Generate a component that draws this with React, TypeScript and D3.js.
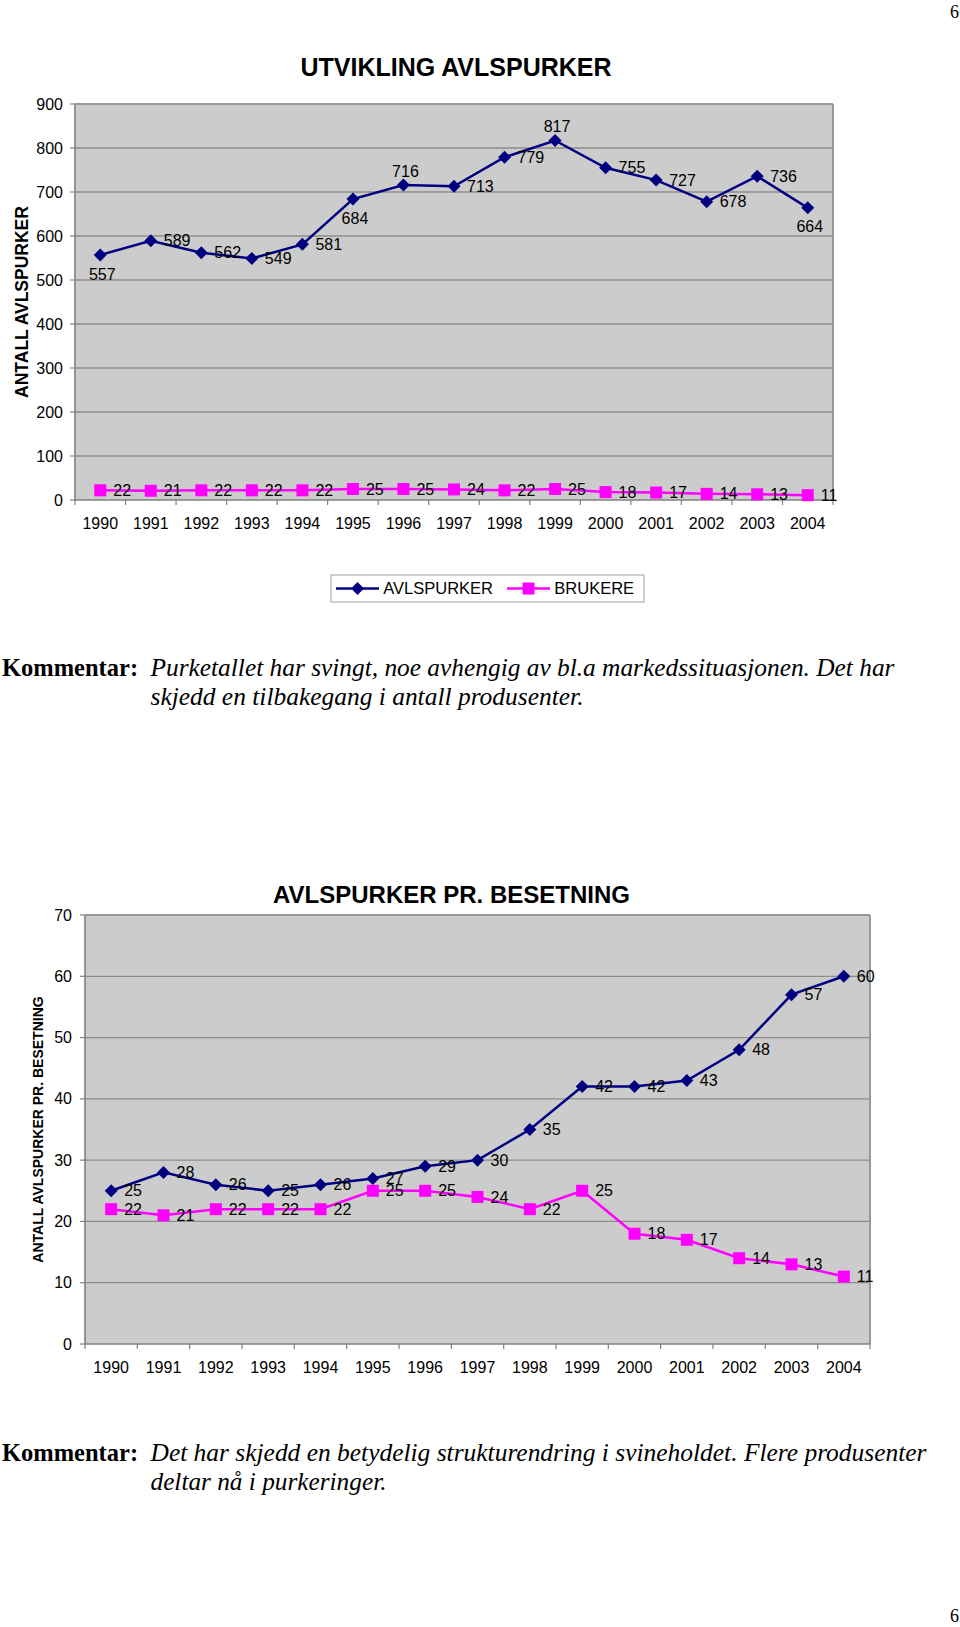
import React from 'react';
import * as d3 from 'd3';

const years = ['1990','1991','1992','1993','1994','1995','1996','1997','1998','1999','2000','2001','2002','2003','2004'];
const avlspurker = [557,589,562,549,581,684,716,713,779,817,755,727,678,736,664];
const brukere = [22,21,22,22,22,25,25,24,22,25,18,17,14,13,11];
const perBesetning = [25,28,26,25,26,27,29,30,35,42,42,43,48,57,60];
const ticks1 = [0,100,200,300,400,500,600,700,800,900];
const ticks2 = [0,10,20,30,40,50,60,70];
const labelPos1 = ['below','right','right','right','right','below','above','right','right','above','right','right','right','right','below'];
const allRight = years.map(() => 'right');

const SANS = '"Liberation Sans", Arial, Helvetica, sans-serif';
const SERIF = '"Liberation Serif", "Times New Roman", serif';
const NAVY = '#000080';
const MAGENTA = '#FF00FF';

type Series = { name: string; values: number[]; color: string; marker: 'diamond' | 'square'; labelPos: string[] };

function Marker({ type, x, y, color }: { type: string; x: number; y: number; color: string }) {
  if (type === 'diamond') {
    const s = 6.5;
    return <path d={`M${x},${y - s}L${x + s},${y}L${x},${y + s}L${x - s},${y}Z`} fill={color} />;
  }
  return <rect x={x - 6} y={y - 6} width={12} height={12} fill={color} />;
}

function LineChart(props: {
  left: number; right: number; top: number; bottom: number; yMax: number; ticks: number[];
  series: Series[]; title: string; titleX: number; titleY: number; titleSize: number;
  yTitle: string; yTitleX: number; yTitleSize: number; tickGap: number;
}) {
  const { left, right, top, bottom, yMax, ticks, series } = props;
  const x = d3.scaleBand<string>().domain(years).range([left, right]).padding(0);
  const y = d3.scaleLinear().domain([0, yMax]).range([bottom, top]);
  const bw = x.bandwidth();
  const cx = (yr: string) => (x(yr) as number) + bw / 2;
  const line = d3.line<number>().x((_, i) => cx(years[i])).y((v) => y(v));
  const boundaries = d3.range(years.length + 1).map((i) => left + i * bw);
  return (
    <g>
      <text x={props.titleX} y={props.titleY} textAnchor="middle" fontFamily={SANS} fontWeight="bold" fontSize={props.titleSize}>{props.title}</text>
      <rect x={left} y={top} width={right - left} height={bottom - top} fill="#cccccc" />
      {ticks.filter((t) => t > 0 && t < yMax).map((t) => (
        <line key={t} x1={left} x2={right} y1={y(t)} y2={y(t)} stroke="#8c8c8c" strokeWidth={1.3} />
      ))}
      <line x1={left} x2={right} y1={top} y2={top} stroke="#999999" strokeWidth={2} />
      <line x1={right} x2={right} y1={top} y2={bottom} stroke="#999999" strokeWidth={2} />
      <line x1={left} x2={left} y1={top} y2={bottom + 1} stroke="#808080" strokeWidth={1.6} />
      <line x1={left} x2={right} y1={bottom} y2={bottom} stroke="#808080" strokeWidth={1.6} />
      {ticks.map((t) => (
        <g key={t}>
          <line x1={left - 5} x2={left} y1={y(t)} y2={y(t)} stroke="#808080" strokeWidth={1.2} />
          <text x={left - props.tickGap} y={y(t)} dy="0.35em" textAnchor="end" fontFamily={SANS} fontSize={16}>{t}</text>
        </g>
      ))}
      {boundaries.map((bx, i) => (
        <line key={i} x1={bx} x2={bx} y1={bottom} y2={bottom + 5} stroke="#808080" strokeWidth={1.2} />
      ))}
      {years.map((yr) => (
        <text key={yr} x={cx(yr)} y={bottom + 23} dy="0.35em" textAnchor="middle" fontFamily={SANS} fontSize={16}>{yr}</text>
      ))}
      <text transform={`translate(${props.yTitleX},${(top + bottom) / 2}) rotate(-90)`} dy="0.35em" textAnchor="middle" fontFamily={SANS} fontWeight="bold" fontSize={props.yTitleSize}>{props.yTitle}</text>
      {series.map((s) => (
        <g key={s.name}>
          <path d={line(s.values) as string} fill="none" stroke={s.color} strokeWidth={2.5} />
          {s.values.map((v, i) => (
            <Marker key={i} type={s.marker} x={cx(years[i])} y={y(v)} color={s.color} />
          ))}
          {s.values.map((v, i) => {
            const pos = s.labelPos[i];
            const px = cx(years[i]);
            const py = y(v);
            if (pos === 'below') return <text key={'l' + i} x={px + 2} y={py + 19} dy="0.35em" textAnchor="middle" fontFamily={SANS} fontSize={16}>{v}</text>;
            if (pos === 'above') return <text key={'l' + i} x={px + 2} y={py - 14} dy="0.35em" textAnchor="middle" fontFamily={SANS} fontSize={16}>{v}</text>;
            return <text key={'l' + i} x={px + 13} y={py} dy="0.35em" textAnchor="start" fontFamily={SANS} fontSize={16}>{v}</text>;
          })}
        </g>
      ))}
    </g>
  );
}

function Comment({ y, lines, widths }: { y: number; lines: string[]; widths: number[] }) {
  return (
    <g fontFamily={SERIF} fontSize={24.5}>
      <text x={2} y={y} fontWeight="bold">Kommentar:</text>
      {lines.map((l, i) => (
        <text key={i} x={150.5} y={y + i * 29} fontStyle="italic" textLength={widths[i]} lengthAdjust="spacingAndGlyphs">{l}</text>
      ))}
    </g>
  );
}

export default function App() {
  const s1: Series[] = [
    { name: 'AVLSPURKER', values: avlspurker, color: NAVY, marker: 'diamond', labelPos: labelPos1 },
    { name: 'BRUKERE', values: brukere, color: MAGENTA, marker: 'square', labelPos: allRight },
  ];
  const s2: Series[] = [
    { name: 'PERBES', values: perBesetning, color: NAVY, marker: 'diamond', labelPos: allRight },
    { name: 'BRUKERE', values: brukere, color: MAGENTA, marker: 'square', labelPos: allRight },
  ];
  return (
    <svg width={960} height={1627} style={{ position: 'absolute', left: 0, top: 0, background: '#fff' }}>
      <rect x={0} y={0} width={960} height={1627} fill="#fff" />
      <text x={950} y={18} fontFamily={SERIF} fontSize={18}>6</text>
      <LineChart left={75} right={833} top={104} bottom={500} yMax={900} ticks={ticks1} series={s1}
        title="UTVIKLING AVLSPURKER" titleX={456} titleY={76} titleSize={25}
        yTitle="ANTALL AVLSPURKER" yTitleX={22} yTitleSize={17.5} tickGap={12} />
      <g>
        <rect x={331} y={575} width={313} height={27} fill="#fff" stroke="#a0a0a0" strokeWidth={1} />
        <line x1={336} x2={379} y1={588.5} y2={588.5} stroke={NAVY} strokeWidth={2.5} />
        <Marker type="diamond" x={357.5} y={588.5} color={NAVY} />
        <text x={383.3} y={588.5} dy="0.35em" fontFamily={SANS} fontSize={16.5}>AVLSPURKER</text>
        <line x1={507} x2={550} y1={588.5} y2={588.5} stroke={MAGENTA} strokeWidth={2.5} />
        <Marker type="square" x={528.5} y={588.5} color={MAGENTA} />
        <text x={554.3} y={588.5} dy="0.35em" fontFamily={SANS} fontSize={16.5}>BRUKERE</text>
      </g>
      <Comment y={675.5} lines={['Purketallet har svingt, noe avhengig av bl.a markedssituasjonen. Det har', 'skjedd en tilbakegang i antall produsenter.']} widths={[744, 433]} />
      <LineChart left={85} right={870} top={915} bottom={1344} yMax={70} ticks={ticks2} series={s2}
        title="AVLSPURKER PR. BESETNING" titleX={451.5} titleY={903} titleSize={24}
        yTitle="ANTALL AVLSPURKER PR. BESETNING" yTitleX={38} yTitleSize={14} tickGap={13} />
      <Comment y={1461} lines={['Det har skjedd en betydelig strukturendring i svineholdet. Flere produsenter', 'deltar nå i purkeringer.']} widths={[776, 236]} />
      <text x={950} y={1622} fontFamily={SERIF} fontSize={18}>6</text>
    </svg>
  );
}
